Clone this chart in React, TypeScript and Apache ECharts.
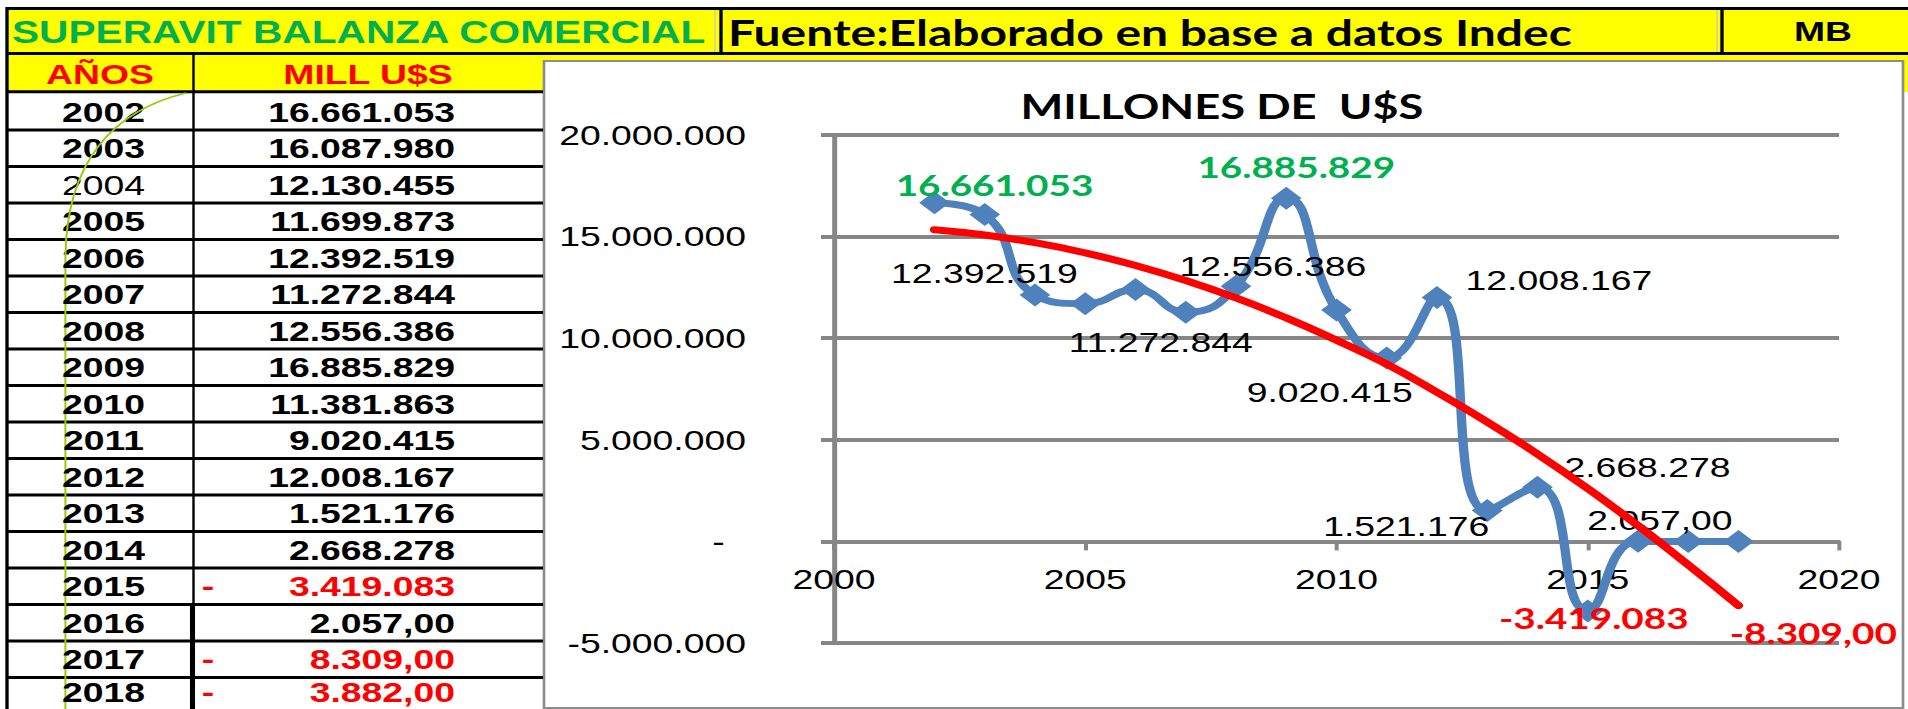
import React, { useEffect, useRef } from 'react';
import * as echarts from 'echarts';

// ---------- data ----------
const years = [2002, 2003, 2004, 2005, 2006, 2007, 2008, 2009, 2010, 2011, 2012, 2013, 2014, 2015, 2016, 2017, 2018];
const values = [16661053, 16087980, 12130455, 11699873, 12392519, 11272844, 12556386, 16885829, 11381863, 9020415, 12008167, 1521176, 2668278, -3419083, 2057, -8309, -3882];
const tableText = ['16.661.053', '16.087.980', '12.130.455', '11.699.873', '12.392.519', '11.272.844', '12.556.386', '16.885.829', '11.381.863', '9.020.415', '12.008.167', '1.521.176', '2.668.278', '3.419.083', '2.057,00', '8.309,00', '3.882,00'];
// trend line (Excel polynomial trendline)
const trendValues = [15340000, 15080000, 14700000, 14200000, 13580000, 12840000, 11980000, 11000000, 9900000, 8720000, 7340000, 5880000, 4300000, 2600000, 780000, -1160000, -3160000];
const xMin = 2000, xMax = 2020, xStep = 5;
const yMin = -5000000, yMax = 20000000, yStep = 5000000;
const headerTitle = 'SUPERAVIT BALANZA COMERCIAL';
const headerSource = 'Fuente:Elaborado en base a datos Indec';
const headerMark = 'MB';
const colYears = 'AÑOS';
const colValues = 'MILL U$S';
const chartTitle = 'MILLONES DE  U$S';

// ---------- layout / style ----------
const FULL_W = 1908;
const W = 1431;
const H = 709;
const S = FULL_W / W;
const X = (f: number) => f / S;
const ARIAL = '"Liberation Sans", Arial, sans-serif';
const CAL = 'Lato, "Liberation Sans", sans-serif';
const GRAY = '#868686';

// labelled points: offsets in picture pixels from the point
const labelStyles: Record<number, { color: string; bold: boolean; dx: number; dy: number }> = {
  2002: { color: '#00b050', bold: true, dx: 60, dy: -18 },
  2009: { color: '#00b050', bold: true, dx: 10, dy: -32 },
  2006: { color: '#000000', bold: false, dx: -151, dy: -16 },
  2008: { color: '#000000', bold: false, dx: 37, dy: -20 },
  2012: { color: '#000000', bold: false, dx: 122, dy: -17 },
  2007: { color: '#000000', bold: false, dx: -25, dy: 30 },
  2011: { color: '#000000', bold: false, dx: -57, dy: 34 },
  2013: { color: '#000000', bold: false, dx: -81, dy: 16 },
  2014: { color: '#000000', bold: false, dx: 110, dy: -20 },
  2016: { color: '#000000', bold: false, dx: 22, dy: -21 },
  2015: { color: '#ff0000', bold: true, dx: 6, dy: 7 },
  2017: { color: '#ff0000', bold: true, dx: 125, dy: 91 },
};

function fmtThousands(v: number): string {
  const s = String(Math.abs(Math.round(v))).replace(/\B(?=(\d{3})+(?!\d))/g, '.');
  return (v < 0 ? '-' : '') + s;
}

function buildGraphic(): any[] {
  const els: any[] = [];
  const hline = (y: number, x1: number, x2: number, lw: number, color = '#000') =>
    els.push({ type: 'line', z: 1, shape: { x1, y1: y, x2, y2: y }, style: { stroke: color, lineWidth: lw } });
  const vline = (x: number, y1: number, y2: number, lw: number, color = '#000') =>
    els.push({ type: 'line', z: 1, shape: { x1: x, y1, x2: x, y2 }, style: { stroke: color, lineWidth: lw } });
  const text = (t: string, x: number, y: number, font: string, fill: string, align: string) =>
    els.push({
      type: 'text', z: 2, x, y,
      style: { text: t, font, fill, align, verticalAlign: 'middle', textAlign: align, textVerticalAlign: 'middle' },
    });

  // yellow header band
  els.push({ type: 'rect', z: 0, shape: { x: X(6), y: 8, width: W - X(6), height: 84 }, style: { fill: '#ffff00' } });
  // chart box
  els.push({
    type: 'rect', z: 0,
    shape: { x: X(544), y: 61, width: X(1903) - X(544), height: 647 },
    style: { fill: '#ffffff', stroke: '#8c8c8c', lineWidth: 2 },
  });

  // header borders
  hline(8.5, X(6), W, 3);
  hline(53.5, X(6), W, 3);
  vline(X(715), 10, 52, 1, '#c8c8c8');
  vline(X(721), 8, 55, 2.5);
  vline(X(1717), 10, 52, 1, '#c8c8c8');
  vline(X(1722), 8, 55, 2.5);

  // table borders
  vline(X(7), 7, H, 2.5);
  hline(91.7, X(6), X(543), 3);
  vline(X(193.5), 55, 605, 1.8);
  vline(X(192.5), 605, H, 3.8);
  for (let k = 0; k < years.length - 1; k++) {
    hline(130 + 36.5 * k, X(6), X(543), 3);
  }

  // header texts
  text(headerTitle, X(12), 32, `bold 30.5px ${ARIAL}`, '#00b050', 'left');
  text(headerSource, X(728), 32, `bold 36px ${CAL}`, '#000000', 'left');
  text(headerMark, X(1823), 31, `bold 28px ${ARIAL}`, '#000000', 'center');
  text(colYears, X(100), 74, `bold 28px ${ARIAL}`, '#ff0000', 'center');
  text(colValues, X(368), 74, `bold 28px ${ARIAL}`, '#ff0000', 'center');

  years.forEach((yr, i) => {
    const cy = Math.min(111.75 + 36.5 * i, 692);
    const neg = values[i] < 0;
    text(String(yr), X(103.5), cy, `${yr === 2004 ? 'normal' : 'bold'} 28px ${ARIAL}`, '#000000', 'center');
    text(tableText[i], X(455), cy, `bold 28px ${ARIAL}`, neg ? '#ff0000' : '#000000', 'right');
    if (neg) text('-', X(208), cy, `bold 28px ${ARIAL}`, '#ff0000', 'center');
  });

  // decorative green curve
  els.push({
    type: 'bezierCurve', z: 3,
    shape: { x1: X(186), y1: 93, cpx1: X(115), cpy1: 110, cpx2: X(65.4), cpy2: 160, x2: X(65.4), y2: 260 },
    style: { stroke: '#99cc00', lineWidth: 1.5, fill: null },
  });
  vline(X(65.4), 260, H, 1.5, '#99cc00');

  // chart title
  text(chartTitle, X(1222), 106, `bold 34px ${CAL}`, '#000000', 'center');
  return els;
}

export default function App() {
  const ref = useRef<HTMLDivElement>(null);
  useEffect(() => {
    if (!ref.current) return;
    const chart = echarts.init(ref.current, null, { renderer: 'svg' });

    const blueData = years.map((yr, i) => {
      const item: any = { value: [yr, values[i]] };
      const st = labelStyles[yr];
      if (st) {
        item.label = {
          show: true,
          position: 'inside',
          offset: [st.dx / S, st.dy],
          formatter: (values[i] < 0 ? '-' : '') + tableText[i],
          color: st.color,
          fontWeight: st.bold ? 'bold' : 'normal',
          fontFamily: st.bold ? CAL : ARIAL,
          fontSize: st.bold ? 29 : 28,
        };
      }
      return item;
    });

    const option: any = {
      animation: false,
      textStyle: { fontFamily: ARIAL },
      grid: { left: X(834), right: W - X(1839), top: 135, bottom: H - 643 },
      xAxis: {
        type: 'value', min: xMin, max: xMax, interval: xStep, z: 5, offset: 0,
        axisLine: { show: true, onZero: false, lineStyle: { color: GRAY, width: 3 } },
        axisTick: { show: true, length: 9, lineStyle: { color: GRAY, width: 3 } },
        axisLabel: { fontSize: 28, color: '#000', margin: 24, fontFamily: ARIAL, formatter: (v: number) => String(v) },
        splitLine: { show: false },
      },
      yAxis: {
        type: 'value', min: yMin, max: yMax, interval: yStep, z: 5,
        axisLine: { show: true, onZero: false, lineStyle: { color: GRAY, width: 3.75 } },
        axisTick: { show: true, length: X(13), lineStyle: { color: GRAY, width: 4 } },
        axisLabel: {
          fontSize: 28, color: '#000', margin: 66, fontFamily: ARIAL,
          formatter: (v: number) => (v === 0 ? '{z|-}' : fmtThousands(v)),
          rich: { z: { fontSize: 28, color: '#000', fontFamily: ARIAL, padding: [0, 16, 0, 0] } },
        },
        splitLine: { show: true, lineStyle: { color: GRAY, width: 4 } },
      },
      series: [
        {
          type: 'line', name: 'Superavit', z: 6,
          data: blueData,
          smooth: 0.5,
          symbol: 'diamond', symbolSize: 23, showSymbol: true, showAllSymbol: true,
          itemStyle: { color: '#4f81bd' },
          lineStyle: { color: '#4f81bd', width: 7 },
          label: { show: false },
        },
        {
          type: 'line', name: 'Tendencia', z: 7,
          data: years.map((yr, i) => [yr, trendValues[i]]),
          smooth: 0.5, symbol: 'none',
          lineStyle: { color: '#ff0000', width: 7, cap: 'round' },
        },
      ],
      graphic: { elements: buildGraphic() },
    };
    chart.setOption(option);

    // place the x axis (line, ticks, labels) on the zero of the value axis
    const yZero = chart.convertToPixel({ yAxisIndex: 0 }, 0) as number;
    const yBottom = chart.convertToPixel({ yAxisIndex: 0 }, yMin) as number;
    chart.setOption({ xAxis: { offset: yZero - yBottom } });

    return () => chart.dispose();
  }, []);

  return (
    <div
      ref={ref}
      style={{
        position: 'fixed', left: 0, top: 0, width: W, height: H,
        transform: `scaleX(${S})`, transformOrigin: '0 0', background: '#ffffff',
      }}
    />
  );
}
